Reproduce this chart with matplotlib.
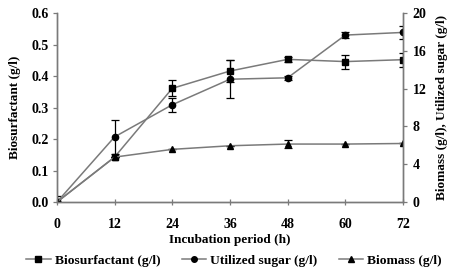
import matplotlib
matplotlib.use("Agg")
import matplotlib.pyplot as plt
from matplotlib.lines import Line2D

# ---------------- data ----------------
hours = [0, 12, 24, 36, 48, 60, 72]

biosurfactant = [0.0, 0.143, 0.361, 0.416, 0.453, 0.446, 0.452]      # g/l, left axis
biosurfactant_err = [0.0, 0.0, 0.025, 0.034, 0.008, 0.022, 0.022]

sugar = [0.0, 6.9, 10.3, 13.0, 13.15, 17.67, 17.95]                 # g/l, right axis
sugar_err = [0.67, 1.8, 0.75, 2.0, 0.2, 0.35, 0.7]

biomass = [0.0, 4.76, 5.58, 5.96, 6.14, 6.14, 6.2]                  # g/l, right axis
biomass_err = [0.0, 0.0, 0.0, 0.0, 0.4, 0.0, 0.0]

LINE_COLOR = "#7a7a7a"
FONT = "Liberation Serif"

plt.rcParams["font.family"] = FONT
plt.rcParams["font.weight"] = "bold"

fig = plt.figure(figsize=(4.59, 2.72), dpi=100)
ax = fig.add_axes([0.124, 0.257, 0.754, 0.695])
ax2 = ax.twinx()

err_kw = dict(ecolor="black", elinewidth=0.9, capsize=3, capthick=0.9)

ax.errorbar(hours, biosurfactant, yerr=biosurfactant_err, color=LINE_COLOR, lw=1.1,
            marker="s", ms=4.5, mfc="black", mec="black", zorder=3, **err_kw)
ax2.errorbar(hours, sugar, yerr=sugar_err, color=LINE_COLOR, lw=1.1,
             marker="o", ms=4.5, mfc="black", mec="black", **err_kw)
ax2.errorbar(hours, biomass, yerr=biomass_err, color=LINE_COLOR, lw=1.1,
             marker="^", ms=4.5, mfc="black", mec="black", **err_kw)

ax.set_xlim(0, 72)
ax.set_ylim(0, 0.6)
ax2.set_ylim(0, 20)
ax.set_xticks(hours)
ax.set_yticks([0.0, 0.1, 0.2, 0.3, 0.4, 0.5, 0.6])
ax.set_yticklabels([f"{v:.1f}" for v in ax.get_yticks()])
ax2.set_yticks([0, 4, 8, 12, 16, 20])

for a in (ax, ax2):
    a.spines["top"].set_visible(False)
    for s in a.spines.values():
        s.set_color(LINE_COLOR)
        s.set_linewidth(1.0)
    a.tick_params(labelsize=10, colors="black", length=3, width=0.9)
    for lab in a.get_xticklabels() + a.get_yticklabels():
        lab.set_fontweight("bold")
ax.tick_params(axis="x", direction="inout", length=5, color=LINE_COLOR, pad=9)
ax.tick_params(axis="y", direction="out", color=LINE_COLOR, pad=3)
ax2.tick_params(axis="y", direction="out", color=LINE_COLOR, pad=4)

ax.set_xlabel("Incubation period (h)", fontsize=9.5, fontweight="bold", labelpad=2)
ax.set_ylabel("Biosurfactant (g/l)", fontsize=9.5, fontweight="bold", labelpad=7)
ax2.set_ylabel("Biomass (g/l), Utilized sugar (g/l)", fontsize=9.5, fontweight="bold", labelpad=7)

handles = [
    Line2D([], [], color=LINE_COLOR, lw=1.1, marker="s", ms=4, mfc="black", mec="black"),
    Line2D([], [], color=LINE_COLOR, lw=1.1, marker="o", ms=4, mfc="black", mec="black"),
    Line2D([], [], color=LINE_COLOR, lw=1.1, marker="^", ms=4, mfc="black", mec="black"),
]
labels = ["Biosurfactant (g/l)", "Utilized sugar (g/l)", "Biomass (g/l)"]
fig.legend(handles, labels, loc="lower center", bbox_to_anchor=(0.51, -0.025), ncol=3,
           frameon=False, handlelength=1.8, handletextpad=0.3, columnspacing=1.6,
           prop={"family": FONT, "weight": "bold", "size": 9.7})

fig.savefig("out.png", dpi=100, facecolor="white")
